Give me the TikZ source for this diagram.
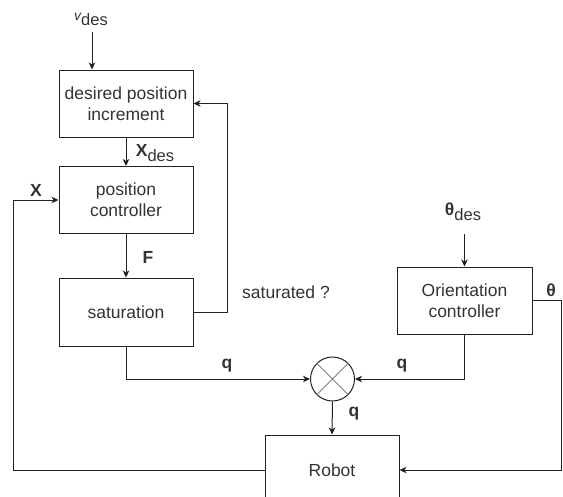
\documentclass[tikz,border=0pt]{standalone}
\usepackage{fontspec}
\setmainfont{Liberation Sans}
\usetikzlibrary{arrows.meta,calc}
\definecolor{txt}{HTML}{333333}
\definecolor{lin}{HTML}{222222}
\newcommand{\subdes}{\raisebox{-5pt}{\fontsize{16.5}{17}\selectfont des}}
\begin{document}
\begin{tikzpicture}[x=1pt,y=-1pt,
  font=\fontsize{17.5}{21}\selectfont,
  blk/.style={draw=lin,line width=1pt,minimum width=134pt,minimum height=67pt,align=center,text=txt,inner sep=0pt},
  lbl/.style={text=txt,inner sep=0pt},
  bl/.style={text=txt,inner sep=0pt,font=\fontsize{17.5}{21}\selectfont\bfseries},
  arr/.style={draw=lin,line width=1pt,-{Stealth[length=7pt,width=6.5pt,inset=2pt]}},
  ln/.style={draw=lin,line width=1pt}]
\useasboundingbox (0,0) rectangle (563,496);
\clip (0,0) rectangle (563,496);
% blocks
\node[blk] (dpi) at (126,103.5) {desired position\\increment};
\node[blk] (pc) at (126,200) {position\\controller};
\node[blk,minimum height=68pt] (sat) at (126,312) {saturation};
\node[blk,minimum width=135pt] (oc) at (464.5,300.5) {Orientation\\controller};
\node[blk,minimum height=70pt] (robot) at (332,470) {Robot};
\node[draw=lin,line width=1pt,circle,minimum size=44pt,inner sep=0pt] (mult) at (332.5,379) {};
\draw[gray,line width=1pt] (mult.north west) -- (mult.south east) (mult.north east) -- (mult.south west);
% labels
\node[lbl] (vdes) at (91,19.5) {{\fontsize{14}{14}\selectfont\itshape v}\subdes};
\node[lbl] (xdes) at (155,153) {\textbf{X}\subdes};
\node[bl] (xl) at (36,190) {X};
\node[bl] (fl) at (148,257) {F};
\node[lbl] (satq) at (286,292) {saturated ?};
\node[lbl] (thdes) at (463,212) {\textbf{θ}\subdes};
\node[bl] (thl) at (551,290) {θ};
\node[bl] (q1) at (227,366) {q};
\node[bl] (q2) at (402,366) {q};
\node[bl] (q3) at (354,414) {q};
% inputs
\coordinate (vin) at (92,32);
\draw[arr] (vin) -- (vin |- dpi.north);
\coordinate (thin) at (464.5,234);
\draw[arr] (thin) -- (oc.north);
% connectors
\draw[arr] (dpi.south) -- (pc.north);
\draw[arr] (pc.south) -- (sat.north);
\draw[arr] (sat.east) -- ++(34,0) |- (dpi.east);
\draw[arr] (sat.south) |- (mult.west);
\draw[arr] (oc.south) |- (mult.east);
\draw[arr] (mult.south) -- (robot.north);
\draw[arr] (robot.west) -| ($(pc.west)+(-45,0)$) -- (pc.west);
\draw[arr] (oc.east) -| ($(robot.east)+(161.5,0)$) -- (robot.east);
\end{tikzpicture}
\end{document}
